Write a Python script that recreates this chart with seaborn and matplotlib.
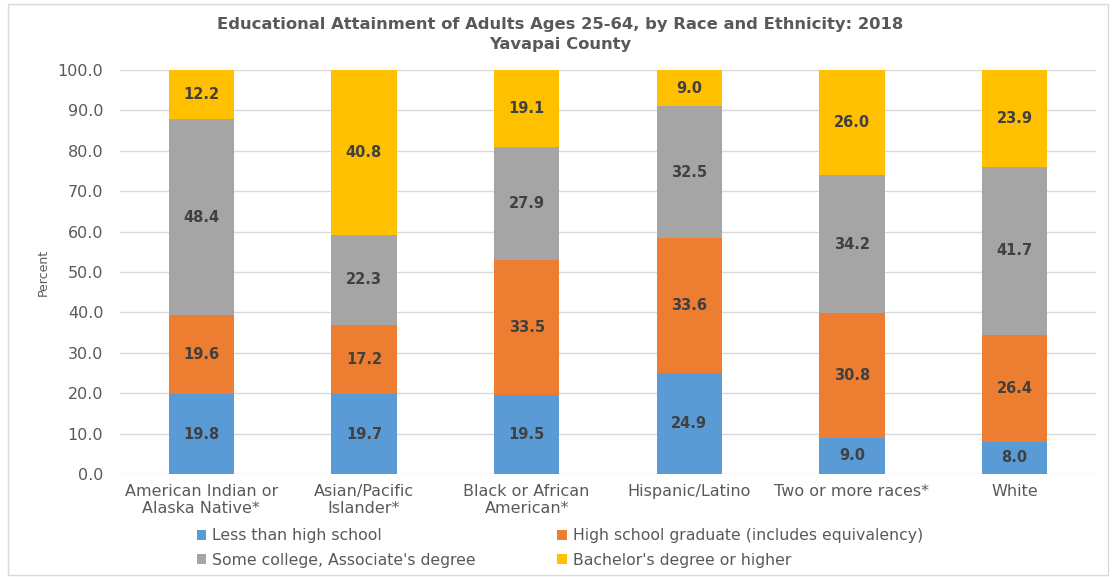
import matplotlib
matplotlib.use("Agg")
import matplotlib.pyplot as plt
import seaborn as sns
import pandas as pd
import numpy as np
from matplotlib.patches import Rectangle

categories = ["American Indian or\nAlaska Native*", "Asian/Pacific\nIslander*",
              "Black or African\nAmerican*", "Hispanic/Latino",
              "Two or more races*", "White"]
less_hs = [19.8, 19.7, 19.5, 24.9, 9.0, 8.0]
hs_grad = [19.6, 17.2, 33.5, 33.6, 30.8, 26.4]
some_college = [48.4, 22.3, 27.9, 32.5, 34.2, 41.7]
bachelors = [12.2, 40.8, 19.1, 9.0, 26.0, 23.9]
series_names = ["Less than high school", "High school graduate (includes equivalency)",
                "Some college, Associate's degree", "Bachelor's degree or higher"]
colors = ["#5B9BD5", "#ED7D31", "#A5A5A5", "#FFC000"]
yticks = [0, 10, 20, 30, 40, 50, 60, 70, 80, 90, 100]

sns.set_theme(style="white")
plt.rcParams['font.family'] = ['DejaVu Sans']

fig = plt.figure(figsize=(11.18, 5.77), dpi=100)
ax = fig.add_axes([120/1118, 1-474/577, (1096-120)/1118, (474-70)/577])

series = [less_hs, hs_grad, some_college, bachelors]
bottom = np.zeros(len(categories))
for name, vals, col in zip(series_names, series, colors):
    df = pd.DataFrame({"cat": categories, "val": vals})
    sns.barplot(data=df, x="cat", y="val", color=col, width=0.4, bottom=bottom,
                saturation=1, ax=ax, label=name, zorder=3, linewidth=0)
    cont = ax.containers[-1]
    labels = [f"{v:.1f}" for v in vals]
    ax.bar_label(cont, labels=labels, label_type="center", fontsize=10.5,
                 fontweight="bold", color="#404040")
    bottom = bottom + np.array(vals)

ax.set_xlim(-0.5, 5.5)
ax.set_ylim(0, 100)
ax.set_yticks(yticks)
ax.set_yticklabels([f"{t:.1f}" for t in yticks])
ax.yaxis.grid(True, color="#D9D9D9", linewidth=1, zorder=0)
ax.set_axisbelow(True)
for s in ax.spines.values():
    s.set_visible(False)
ax.tick_params(axis="y", length=0, pad=12, labelsize=11.5, labelcolor="#595959")
ax.tick_params(axis="x", length=0, pad=7, labelsize=11.5, labelcolor="#595959")
ax.set_xlabel("")
ax.set_ylabel("Percent", fontsize=9, color="#595959", labelpad=6)

h, l = ax.get_legend_handles_labels()
order = [0, 2, 1, 3]
fig.legend([h[i] for i in order], [l[i] for i in order], ncol=2,
           loc="center", bbox_to_anchor=(560/1118, 1-548/577), frameon=False,
           fontsize=11.3, labelcolor="#595959", handlelength=0.6, handleheight=0.6,
           handletextpad=0.4, columnspacing=5.2, labelspacing=0.6)
if ax.get_legend():
    ax.get_legend().remove()

fig.suptitle("Educational Attainment of Adults Ages 25-64, by Race and Ethnicity: 2018\nYavapai County",
             y=1-17/577, va="top", fontsize=11.8, fontweight="bold", color="#595959",
             linespacing=1.45, x=560/1118)

fig.patches.append(Rectangle((8/1118, 2/577), 1100/1118, 571/577, transform=fig.transFigure,
                             fill=False, edgecolor="#D9D9D9", linewidth=1))

fig.savefig("out.png", dpi=100)
